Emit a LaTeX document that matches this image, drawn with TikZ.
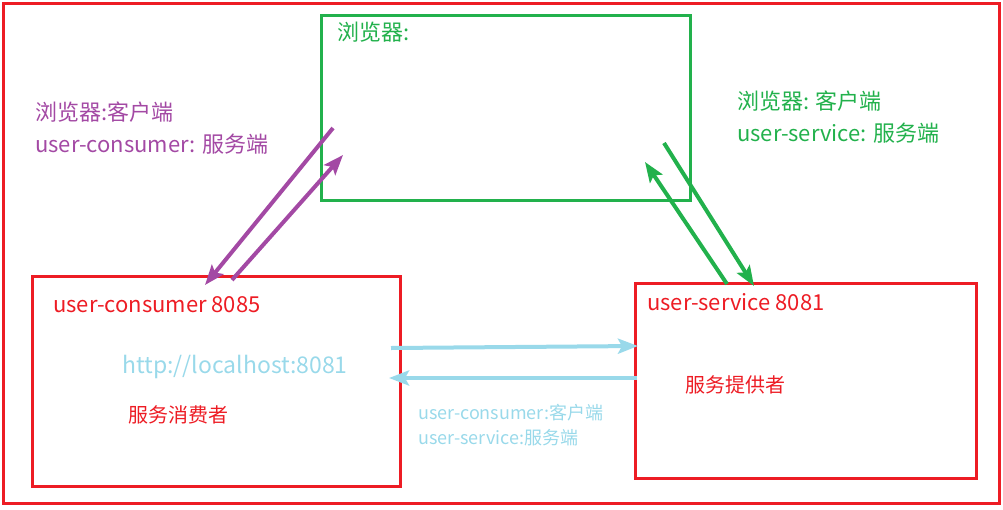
\documentclass[tikz,border=0pt]{standalone}
\usepackage{xcolor}
\usepackage{fontspec}
\setmainfont{Noto Sans CJK SC}
\usepackage{tikz}
\usetikzlibrary{arrows.meta}
\definecolor{paintred}{HTML}{ED1C24}
\definecolor{paintgreen}{HTML}{22B14C}
\definecolor{paintpurple}{HTML}{A349A4}
\definecolor{paintblue}{HTML}{99D9EA}
\tikzset{
	framebox/.style = {
		rectangle,
		anchor = north west,
		inner sep = 0pt,
		outer sep = 0pt,
		line width = 3pt,
	},
	textlabel/.style = {
		anchor = west,
		inner sep = 0pt,
		align = left,
	},
	flowarrow/.style = {
		line width = 4pt,
		-{Stealth[length = 20pt, width = 15pt, inset = 4pt]},
	}
}

\begin{document}
\begin{tikzpicture}[x = 1pt, y = -1pt]
	\useasboundingbox (0,0) rectangle (1003,509);
	\node[framebox, draw = paintred, minimum width = 996, minimum height = 500](frame) at (3,3){};
	\node[framebox, draw = paintgreen, minimum width = 369, minimum height = 185](browser) at (321,15){};
	\node[framebox, draw = paintred, minimum width = 368, minimum height = 210](consumer) at (32,276){};
	\node[framebox, draw = paintred, minimum width = 341, minimum height = 195](service) at (635,283){};
	
	\node[textlabel, text = paintgreen, font = \fontsize{22}{26}\selectfont](browsertitle) at (337,32){浏览器:};
	\node[textlabel, text = paintpurple, font = \fontsize{22}{31.5}\selectfont](leftnote) at (35,128){浏览器:客户端\\user-consumer: 服务端};
	\node[textlabel, text = paintgreen, font = \fontsize{22}{31.5}\selectfont](rightnote) at (737,117){浏览器: 客户端\\user-service: 服务端};
	\node[textlabel, text = paintred, font = \fontsize{22}{26}\selectfont](consumertitle) at (53,305){user-consumer 8085};
	\node[textlabel, text = paintred, font = \fontsize{22}{26}\selectfont](servicetitle) at (647,302){user-service 8081};
	\node[textlabel, text = paintblue, font = \fontsize{23}{27}\selectfont](url) at (122,367){http://localhost:8081};
	\node[textlabel, text = paintred, font = \fontsize{20}{24}\selectfont](consumerrole) at (128,415){服务消费者};
	\node[textlabel, text = paintred, font = \fontsize{20}{24}\selectfont](servicerole) at (685,385){服务提供者};
	\node[textlabel, text = paintblue, font = \fontsize{18}{25}\selectfont](bottomnote) at (418,425){user-consumer:客户端\\user-service:服务端};
	
	% browser <-> user-consumer
	\coordinate (pdown) at (333,128);
	\coordinate (pdownend) at (205,285);
	\coordinate (pup) at (232,280);
	\coordinate (pupend) at (343,155);
	\draw[flowarrow, draw = paintpurple, fill = paintpurple](pdown)--(pdownend);
	\draw[flowarrow, draw = paintpurple, fill = paintpurple](pup)--(pupend);
	
	% browser <-> user-service
	\coordinate (gup) at (727,284);
	\coordinate (gupend) at (645,162);
	\coordinate (gdown) at (664,143);
	\coordinate (gdownend) at (754,286);
	\draw[flowarrow, draw = paintgreen, fill = paintgreen](gup)--(gupend);
	\draw[flowarrow, draw = paintgreen, fill = paintgreen](gdown)--(gdownend);
	
	% user-consumer <-> user-service
	\coordinate (bgo) at (391,348);
	\coordinate (bgoend) at (638,346);
	\coordinate (bback) at (637,378);
	\coordinate (bbackend) at (389,378);
	\draw[flowarrow, draw = paintblue, fill = paintblue](bgo)--(bgoend);
	\draw[flowarrow, draw = paintblue, fill = paintblue](bback)--(bbackend);
\end{tikzpicture}
\end{document}
